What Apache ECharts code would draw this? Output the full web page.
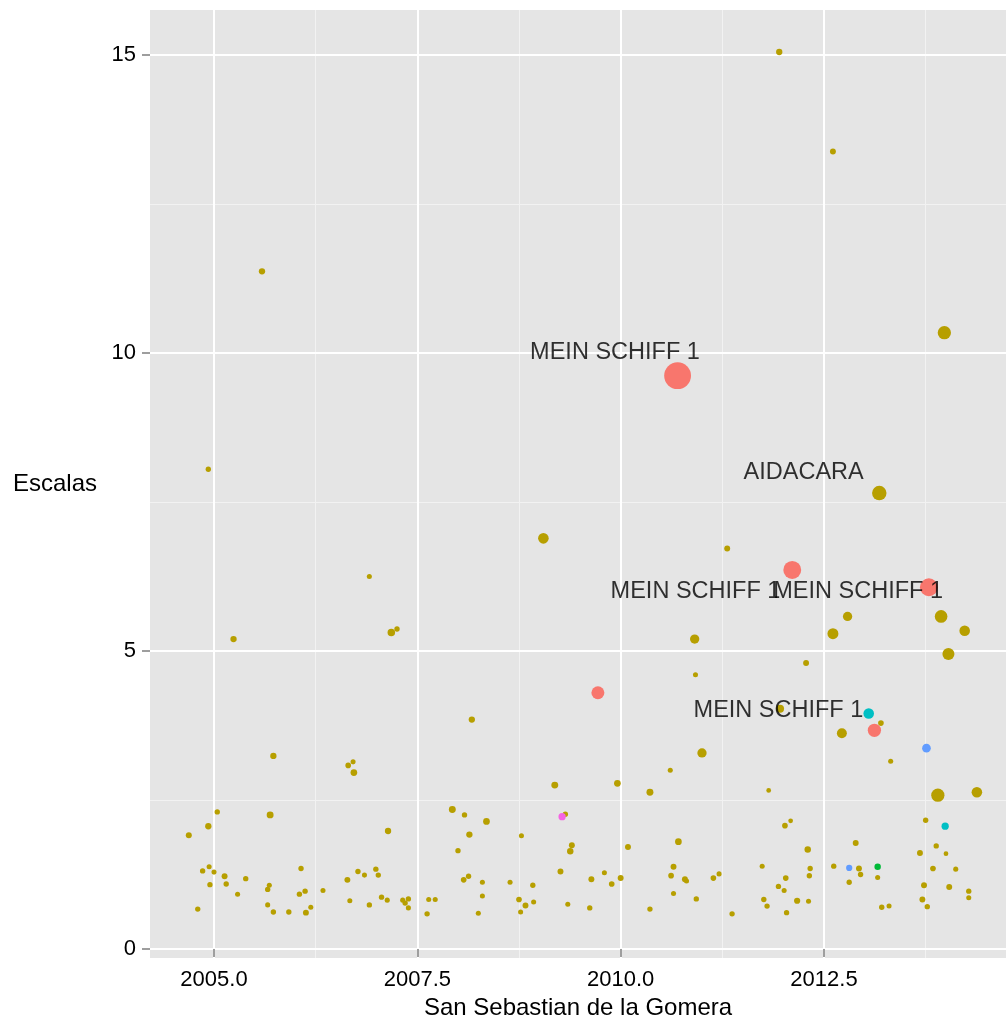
<!DOCTYPE html>
<html>
<head>
<meta charset="utf-8">
<script src="https://cdn.jsdelivr.net/npm/echarts@6/dist/echarts.min.js"></script>
<style>
html,body{margin:0;padding:0;background:#fff;}
#chart{width:1006px;height:1021px;}
</style>
</head>
<body>
<div id="chart"></div>
<script>
// ---- Data: [fecha (año decimal), escalas, peso] ----
const otros = [
  [2004.69,1.91,2.25],[2005.04,2.30,1.8],[2004.93,2.06,2.5],[2005.69,2.25,3],[2007.14,1.98,2.5],
  [2004.86,1.31,1.8],[2004.94,1.38,1.6],[2005.00,1.29,1.6],[2005.13,1.22,2.2],[2004.95,1.08,1.8],
  [2005.15,1.09,1.8],[2005.39,1.18,1.8],[2005.29,0.92,1.6],[2004.80,0.67,1.8],[2005.66,1.00,1.8],
  [2005.68,1.07,1.6],[2005.66,0.74,1.6],[2005.73,0.62,1.8],[2005.92,0.62,1.8],[2006.07,1.35,1.8],
  [2006.05,0.92,1.8],[2006.12,0.97,1.8],[2006.13,0.61,2.2],[2006.19,0.70,1.6],[2006.34,0.98,1.6],
  [2006.64,1.16,2.2],[2006.67,0.81,1.6],[2006.77,1.30,1.8],[2006.85,1.24,1.6],[2006.99,1.34,1.8],
  [2007.02,1.24,1.8],[2006.91,0.74,1.8],[2007.06,0.87,1.8],[2007.13,0.82,1.6],[2007.32,0.82,1.6],
  [2007.35,0.77,1.8],[2007.39,0.84,1.8],[2007.39,0.69,1.6],[2007.62,0.59,1.8],[2007.64,0.83,1.6],
  [2007.72,0.83,1.6],
  [2009.19,2.75,3],[2009.96,2.78,2.8],[2010.36,2.63,3],[2007.93,2.34,3],[2008.08,2.25,1.8],
  [2008.35,2.14,2.8],[2008.14,1.92,2.5],[2009.32,2.26,1.8],[2008.78,1.90,1.6],[2008.00,1.65,1.8],
  [2009.40,1.74,2.2],[2009.38,1.64,2.6],[2010.09,1.71,2.2],[2010.71,1.80,2.8],[2010.65,1.38,2.2],
  [2010.62,1.23,2.0],[2009.26,1.30,2.2],[2009.80,1.28,1.6],[2009.64,1.17,2.2],[2010.00,1.19,2.2],
  [2009.89,1.09,2.0],[2010.79,1.17,2.2],[2010.81,1.14,1.6],[2011.14,1.19,2.0],[2011.21,1.26,1.6],
  [2008.07,1.16,2.0],[2008.13,1.22,1.8],[2008.30,1.12,1.6],[2008.30,0.89,1.6],[2008.25,0.60,1.6],
  [2008.64,1.12,1.6],[2008.92,1.07,1.8],[2008.75,0.83,2.0],[2008.83,0.73,2.2],[2008.77,0.62,1.6],
  [2008.93,0.79,1.6],[2009.35,0.75,1.6],[2009.62,0.69,1.8],[2010.36,0.67,1.8],[2010.65,0.93,1.6],
  [2010.93,0.84,1.8],
  [2013.90,2.58,11],[2014.38,2.63,7],[2011.82,2.66,1.4],[2012.09,2.15,1.4],[2012.02,2.07,2.0],
  [2013.75,2.16,1.8],[2012.89,1.78,2.2],[2012.30,1.67,2.6],[2013.68,1.61,2.2],[2013.88,1.73,1.8],
  [2014.00,1.60,1.4],[2011.74,1.39,1.6],[2012.62,1.39,1.8],[2012.93,1.35,2.2],[2012.33,1.35,1.8],
  [2012.32,1.23,1.8],[2013.84,1.35,2.0],[2014.12,1.34,1.6],[2012.95,1.25,1.8],[2013.16,1.20,1.6],
  [2012.03,1.19,2.0],[2012.81,1.12,1.8],[2013.73,1.07,2.2],[2014.04,1.04,2.2],[2011.94,1.05,1.8],
  [2012.01,0.98,1.6],[2014.28,0.97,1.8],[2014.28,0.86,1.6],[2011.76,0.83,1.8],[2011.80,0.72,1.8],
  [2012.17,0.81,2.4],[2012.31,0.80,1.6],[2012.04,0.61,1.8],[2011.37,0.59,1.8],[2013.71,0.83,2.2],
  [2013.77,0.71,1.8],[2013.21,0.70,1.8],[2013.30,0.72,1.6],
  [2006.91,6.25,1.6],[2005.24,5.20,2.5],[2007.18,5.31,3.5],[2007.25,5.37,1.8],[2008.17,3.85,2.5],
  [2005.73,3.24,2.5],[2006.65,3.08,2.0],[2006.71,3.14,1.6],[2006.72,2.96,2.8],
  [2013.94,5.58,10],[2012.79,5.58,5.4],[2012.61,5.29,7.5],[2014.23,5.34,7],[2014.03,4.95,9],
  [2010.91,5.20,5.4],[2010.92,4.60,1.6],[2012.28,4.80,2.2],[2011.96,4.03,4],[2013.20,3.79,2.0],
  [2012.72,3.62,6.2],[2013.32,3.15,1.6],[2011.00,3.29,5.4],[2010.61,3.00,1.6],
  [2011.95,15.05,2.5],[2012.61,13.38,2.2],[2013.98,10.34,11],[2013.18,7.65,13],[2011.31,6.72,2.2],
  [2005.59,11.37,2.5],[2004.93,8.05,1.8],[2009.05,6.89,7]
];
const grupoRojo = [[2010.70,9.62,45],[2012.11,6.36,20],[2013.79,6.07,20],[2009.72,4.30,10.5],[2013.12,3.67,11]];
const grupoVerde = [[2013.16,1.38,2.6]];
const grupoCian = [[2013.05,3.95,7],[2013.99,2.06,3.3]];
const grupoAzul = [[2013.76,3.37,4.7],[2012.81,1.36,2.4]];
const grupoRosa = [[2009.28,2.22,3.3]];

const etiquetas = ['MEIN SCHIFF 1','AIDACARA','MEIN SCHIFF 1','MEIN SCHIFF 1','MEIN SCHIFF 1'];
const etiquetaX = [2009.93, 2012.25, 2010.92, 2012.92, 2011.94];
const etiquetaY = [10, 8, 6, 6, 4];

const xTicks = [2005, 2007.5, 2010, 2012.5];
const xMinor = [2006.25, 2008.75, 2011.25, 2013.75];
const yTicks = [0, 5, 10, 15];
const yMinor = [2.5, 7.5, 12.5];

const X_MIN = 2004.213, X_MAX = 2014.738, Y_MIN = -0.151, Y_MAX = 15.755;
const FONT = "'Liberation Sans', Arial, Helvetica, sans-serif";

const chart = echarts.init(document.getElementById('chart'), null, {renderer:'canvas'});
const sizeFn = v => 4 * Math.sqrt(v[2]);
function pts(data, color, z) {
  return {type:'scatter', data: data, symbol:'circle', symbolSize: sizeFn,
    itemStyle:{color: color, opacity: 1}, z: z, silent: true, xAxisIndex: 0, yAxisIndex: 0};
}
const option = {
  animation: false,
  backgroundColor: '#ffffff',
  grid: {left:150, right:0, top:10, bottom:63, show:true, backgroundColor:'#E5E5E5', borderWidth:0,
         containLabel:false, outerBoundsMode:'none'},
  xAxis: [
    {type:'value', min:X_MIN, max:X_MAX, z:2,
     axisLine:{show:false},
     axisTick:{show:true, length:8, customValues:xTicks, lineStyle:{color:'#7F7F7F', width:1.5}},
     axisLabel:{show:true, customValues:xTicks, formatter: v => Number(v).toFixed(1), fontSize:22, color:'#000', margin:11, fontFamily:FONT},
     splitLine:{show:true, lineStyle:{color:'#FFFFFF', width:2}},
     name:'San Sebastian de la Gomera', nameLocation:'middle', nameGap:38,
     nameTextStyle:{fontSize:24, color:'#000', fontFamily:FONT}},
    {type:'value', min:X_MIN, max:X_MAX, position:'top', z:1,
     axisLine:{show:false}, axisTick:{show:false, customValues:xMinor}, axisLabel:{show:false, customValues:xMinor},
     splitLine:{show:true, lineStyle:{color:'#F2F2F2', width:1}}}
  ],
  yAxis: [
    {type:'value', min:Y_MIN, max:Y_MAX, z:2,
     axisLine:{show:false},
     axisTick:{show:true, length:8, customValues:yTicks, lineStyle:{color:'#7F7F7F', width:1.5}},
     axisLabel:{show:true, customValues:yTicks, fontSize:22, color:'#000', margin:14, fontFamily:FONT},
     splitLine:{show:true, lineStyle:{color:'#FFFFFF', width:2}},
     name:'Escalas', nameLocation:'middle', nameRotate:0, nameGap:53,
     nameTextStyle:{fontSize:24, color:'#000', fontFamily:FONT}},
    {type:'value', min:Y_MIN, max:Y_MAX, position:'right', z:1,
     axisLine:{show:false}, axisTick:{show:false, customValues:yMinor}, axisLabel:{show:false, customValues:yMinor},
     splitLine:{show:true, lineStyle:{color:'#F2F2F2', width:1}}}
  ],
  series: [
    pts(otros, '#B79F00', 3),
    pts(grupoRojo, '#F8766D', 4),
    pts(grupoVerde, '#00BA38', 4),
    pts(grupoCian, '#00BFC4', 4),
    pts(grupoAzul, '#619CFF', 4),
    pts(grupoRosa, '#F564E3', 4),
    {type:'scatter', silent:true, z:10, symbol:'circle', symbolSize:1,
     itemStyle:{color:'rgba(0,0,0,0)'},
     data: etiquetas.map((t,i) => ({name:t, value:[etiquetaX[i], etiquetaY[i]]})),
     label:{show:true, position:'inside', formatter:'{b}', fontSize:23.5, color:'#000', textBorderWidth:0, fontFamily:FONT}}
  ]
};
chart.setOption(option);
</script>
</body>
</html>
